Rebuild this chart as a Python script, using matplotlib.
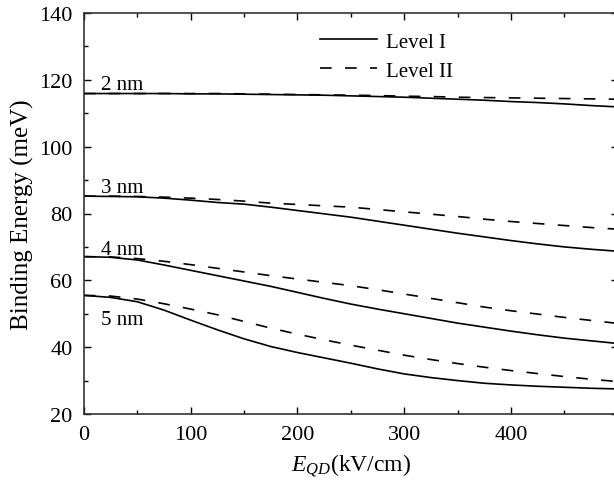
import matplotlib.pyplot as plt
from matplotlib.ticker import MultipleLocator

plt.rcParams['font.family'] = ['Liberation Serif', 'DejaVu Serif']
plt.rcParams['mathtext.fontset'] = 'custom'
plt.rcParams['mathtext.it'] = 'Liberation Serif:italic'
plt.rcParams['mathtext.rm'] = 'Liberation Serif'

# electric field (kV/cm)
field = [0, 25, 50, 75, 100, 125, 150, 175, 200, 225, 250,
         275, 300, 325, 350, 375, 400, 425, 450, 475, 500]

# binding energies (meV), level I (solid) and level II (dashed)
e2_lev1 = [115.9, 115.9, 115.9, 115.9, 115.8, 115.8, 115.7, 115.6, 115.5, 115.4, 115.2,
           115.0, 114.8, 114.5, 114.2, 113.9, 113.5, 113.2, 112.8, 112.3, 111.9]
e2_lev2 = [115.9, 115.9, 115.9, 115.9, 115.9, 115.9, 115.8, 115.7, 115.6, 115.5, 115.4,
           115.3, 115.1, 115.0, 114.8, 114.7, 114.6, 114.5, 114.4, 114.3, 114.2]
e3_lev1 = [85.2, 85.1, 85.0, 84.6, 84.0, 83.3, 82.8, 81.9, 80.9, 79.9, 78.9,
           77.7, 76.5, 75.3, 74.1, 73.0, 71.9, 70.9, 70.0, 69.3, 68.7]
e3_lev2 = [85.2, 85.2, 85.1, 84.9, 84.6, 84.2, 83.7, 83.1, 82.7, 82.3, 81.9,
           81.2, 80.5, 79.8, 79.1, 78.3, 77.6, 77.0, 76.4, 75.8, 75.3]
e4_lev1 = [67.1, 66.9, 66.1, 64.6, 63.0, 61.4, 59.8, 58.2, 56.4, 54.6, 52.9,
           51.4, 50.0, 48.6, 47.2, 46.0, 44.8, 43.7, 42.7, 41.9, 41.1]
e4_lev2 = [67.1, 67.0, 66.5, 65.7, 64.7, 63.6, 62.5, 61.4, 60.4, 59.4, 58.4,
           57.2, 55.9, 54.6, 53.3, 52.0, 50.9, 49.9, 48.9, 48.0, 47.1]
e5_lev1 = [55.5, 54.9, 53.6, 51.1, 48.1, 45.2, 42.5, 40.2, 38.4, 36.8, 35.2,
           33.5, 32.0, 30.9, 30.0, 29.2, 28.7, 28.3, 28.0, 27.7, 27.5]
e5_lev2 = [55.5, 55.3, 54.4, 53.0, 51.4, 49.7, 47.7, 45.7, 43.9, 42.2, 40.6,
           39.1, 37.6, 36.3, 35.1, 34.0, 33.0, 32.1, 31.2, 30.4, 29.7]

sizes = ['2 nm', '3 nm', '4 nm', '5 nm']
label_pos = [(16, 117.3), (16, 86.3), (16, 67.9), (16, 46.9)]

fig = plt.figure(figsize=(6.14, 4.89), dpi=100)
ax = fig.add_axes([83.8 / 614, 1 - 415 / 489, (617.8 - 83.8) / 614, (415 - 14) / 489])

dash = (0, (7.0, 8.0))
lev1 = [e2_lev1, e3_lev1, e4_lev1, e5_lev1]
lev2 = [e2_lev2, e3_lev2, e4_lev2, e5_lev2]
for i in range(4):
    ax.plot(field, lev1[i], color='black', lw=1.2,
            label='Level I' if i == 0 else None)
    ax.plot(field, lev2[i], color='black', lw=1.2, linestyle=dash,
            label='Level II' if i == 0 else None)
    ax.text(label_pos[i][0], label_pos[i][1], sizes[i], fontsize=15,
            ha='left', va='baseline')

ax.set_xlim(0, 500)
ax.set_ylim(20, 140)
ax.xaxis.set_major_locator(MultipleLocator(100))
ax.xaxis.set_minor_locator(MultipleLocator(50))
ax.yaxis.set_major_locator(MultipleLocator(20))
ax.yaxis.set_minor_locator(MultipleLocator(10))
ax.set_xticks([0, 100, 200, 300, 400])
ax.tick_params(which='both', direction='in', top=True, right=True, width=1.0)
ax.tick_params(which='major', length=5, labelsize=16, pad=8)
ax.tick_params(which='minor', length=3)
for s in ax.spines.values():
    s.set_linewidth(1.2)
    s.set_color('#333333')

ax.set_xlabel('$E_{QD}$(kV/cm)', fontsize=17, labelpad=5)
ax.set_ylabel('Binding Energy (meV)', fontsize=18, labelpad=4)

ax.legend(loc='upper left', bbox_to_anchor=(320 / 614, 1 - 33 / 489),
          bbox_transform=fig.transFigure, frameon=False, fontsize=15,
          borderpad=0, borderaxespad=0, handlelength=2.75, handletextpad=0.4,
          labelspacing=0.45)

fig.savefig('out.png', dpi=100)
